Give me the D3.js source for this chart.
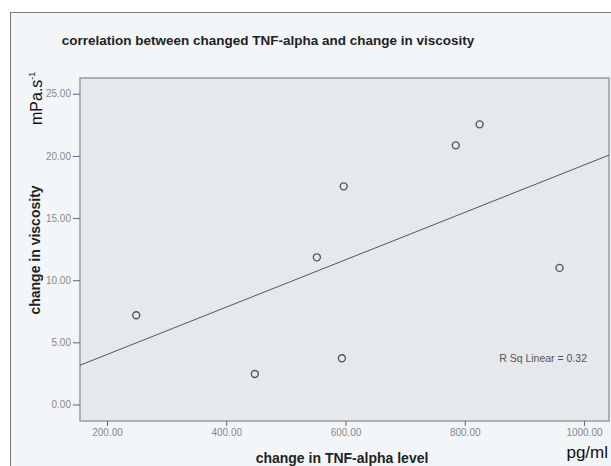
<!DOCTYPE html>
<html>
<head>
<meta charset="utf-8">
<script src="https://cdn.jsdelivr.net/npm/d3@7"></script>
<style>
    body { margin: 0; background: #fff; }
    svg { display: block; font-family: 'Liberation Sans', Arial, sans-serif; }
</style>
</head>
<body>
<script>
// change in TNF-alpha level (pg/ml)
const tnfChange = [249, 448, 552, 597, 594, 785, 825, 959];
// change in viscosity (mPa.s-1)
const viscosityChange = [7.18, 2.45, 11.84, 17.55, 3.72, 20.85, 22.54, 10.99];

const xTicks = [200, 400, 600, 800, 1000];
const yTicks = [0, 5, 10, 15, 20, 25];

drawScatter();

function drawScatter()
{
    const width = 611;
    const height = 466;

    const plotLeft = 80;
    const plotRight = 609;
    const plotTop = 78;
    const plotBottom = 421;

    const points = tnfChange.map((v, i) => ({ x: v, y: viscosityChange[i] }));

    const svg = d3.select('body').append('svg')
        .attr('width', width)
        .attr('height', height);

    // outer frame
    svg.append('rect')
        .attr('x', 10.5)
        .attr('y', 12.5)
        .attr('width', 640)
        .attr('height', 500)
        .attr('fill', '#f3f6f9')
        .attr('stroke', '#7a7a7a')
        .attr('stroke-width', 1);

    // scales
    const x = d3.scaleLinear()
        .domain([154.7, 1042])
        .range([plotLeft, plotRight]);

    const y = d3.scaleLinear()
        .domain([-1.33, 26.27])
        .range([plotBottom, plotTop]);

    // plot background
    svg.append('rect')
        .attr('x', plotLeft)
        .attr('y', plotTop)
        .attr('width', plotRight - plotLeft)
        .attr('height', plotBottom - plotTop)
        .attr('fill', '#e6e9ec')
        .attr('stroke', '#9a9a9a')
        .attr('stroke-width', 1.5);

    // title
    svg.append('text')
        .attr('x', 268)
        .attr('y', 45)
        .attr('text-anchor', 'middle')
        .attr('font-size', 13.5)
        .attr('font-weight', 'bold')
        .attr('fill', '#222')
        .text('correlation between changed TNF-alpha and change in viscosity');

    // axes
    const xAxis = d3.axisBottom(x)
        .tickValues(xTicks)
        .tickSize(5)
        .tickPadding(3)
        .tickFormat(d3.format('.2f'));

    const yAxis = d3.axisLeft(y)
        .tickValues(yTicks)
        .tickSize(7)
        .tickPadding(2)
        .tickFormat(d3.format('.2f'));

    svg.append('g')
        .attr('id', 'x-axis')
        .attr('transform', `translate(0, ${plotBottom})`)
        .call(xAxis)
        .call(g => g.select('.domain').remove())
        .call(g => g.selectAll('line').attr('stroke', '#666'))
        .call(g => g.selectAll('text').attr('fill', '#888').attr('font-size', 10));

    svg.append('g')
        .attr('id', 'y-axis')
        .attr('transform', `translate(${plotLeft}, 0)`)
        .call(yAxis)
        .call(g => g.select('.domain').remove())
        .call(g => g.selectAll('line').attr('stroke', '#666'))
        .call(g => g.selectAll('text').attr('fill', '#888').attr('font-size', 10));

    // linear fit
    const mx = d3.mean(points, d => d.x);
    const my = d3.mean(points, d => d.y);
    const sxy = d3.sum(points, d => (d.x - mx) * (d.y - my));
    const sxx = d3.sum(points, d => (d.x - mx) ** 2);
    const syy = d3.sum(points, d => (d.y - my) ** 2);
    const slope = sxy / sxx;
    const intercept = my - slope * mx;
    const r2 = (sxy * sxy) / (sxx * syy);

    const [x0, x1] = x.domain();
    svg.append('line')
        .attr('x1', x(x0))
        .attr('y1', y(intercept + slope * x0))
        .attr('x2', x(x1))
        .attr('y2', y(intercept + slope * x1))
        .attr('stroke', '#555')
        .attr('stroke-width', 1);

    // points
    svg.selectAll('circle.pt')
        .data(points)
        .enter()
        .append('circle')
        .attr('class', 'pt')
        .attr('cx', d => x(d.x))
        .attr('cy', d => y(d.y))
        .attr('r', 3.5)
        .attr('fill', 'none')
        .attr('stroke', '#555')
        .attr('stroke-width', 1.4);

    // r squared
    svg.append('text')
        .attr('x', 587)
        .attr('y', 362)
        .attr('text-anchor', 'end')
        .attr('font-size', 10.5)
        .attr('fill', '#555')
        .text(`R Sq Linear = ${r2.toFixed(2)}`);

    // axis titles
    svg.append('text')
        .attr('x', 342)
        .attr('y', 463)
        .attr('text-anchor', 'middle')
        .attr('font-size', 14)
        .attr('font-weight', 'bold')
        .attr('fill', '#222')
        .text('change in TNF-alpha level');

    svg.append('text')
        .attr('transform', 'translate(40, 250) rotate(-90)')
        .attr('text-anchor', 'middle')
        .attr('font-size', 14)
        .attr('font-weight', 'bold')
        .attr('fill', '#222')
        .text('change in viscosity');

    // units
    svg.append('text')
        .attr('x', 608)
        .attr('y', 458)
        .attr('text-anchor', 'end')
        .attr('font-size', 17)
        .attr('fill', '#111')
        .text('pg/ml');

    const unitY = svg.append('text')
        .attr('transform', 'translate(42, 125) rotate(-90)')
        .attr('font-size', 16)
        .attr('fill', '#111');
    unitY.append('tspan').text('mPa.s');
    unitY.append('tspan')
        .attr('font-size', 9)
        .attr('dy', -7)
        .text('-1');
}
</script>
</body>
</html>
